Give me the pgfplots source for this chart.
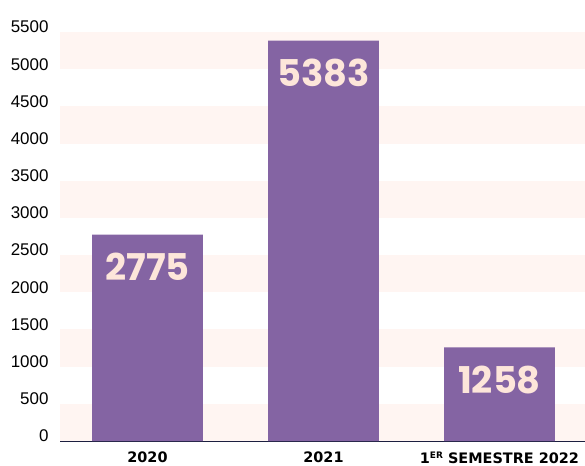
\documentclass[border=0pt]{standalone}
\usepackage{fontspec}
\setmainfont{Liberation Sans}
\newfontfamily\valfont{Poppins}[UprightFont=* Bold]
\newfontfamily\catfont{DejaVu Sans}[UprightFont=* Bold]
\usepackage{pgfplots}
\pgfplotsset{compat=1.18}
\definecolor{barc}{HTML}{8464A3}
\definecolor{valc}{HTML}{FDE6DA}
\definecolor{band}{HTML}{FFF5F2}
\definecolor{axc}{HTML}{1C1F40}
\begin{document}
\begin{tikzpicture}
\path[use as bounding box] (0,0) rectangle (585bp,466bp);
\begin{axis}[
  at={(60bp,25bp)}, anchor=south west,
  scale only axis, width=525bp, height=409bp,
  xmin=-0.497, xmax=2.486, ymin=0, ymax=5500,
  ytick={0,500,...,5500},
  xtick={0,1,2},
  xticklabels={2020,2021,{1{\fontsize{9}{9}\selectfont\raisebox{5bp}{ER}} SEMESTRE 2022}},
  axis x line*=bottom,
  axis y line*=left,
  y axis line style={draw=none},
  x axis line style={axc, line width=1.2pt, -},
  major tick length=0pt,
  ytick style={draw=none}, xtick style={draw=none},
  /pgf/number format/assume math mode=true,
  /pgf/number format/1000 sep={},
  yticklabel style={font=\fontsize{17}{17}\selectfont, anchor=east, xshift=-8bp, yshift=5bp},
  xticklabel style={font=\catfont\fontsize{14.5}{15}\selectfont, anchor=north, yshift=-7bp},
  ybar, bar width=0.63,
  clip=false,
  nodes near coords,
  nodes near coords style={font=\valfont\fontsize{37}{37}\selectfont, text=valc, anchor=north, inner sep=0pt, yshift=-18bp},
]
\pgfplotsinvokeforeach{0,1000,2000,3000,4000,5000}{
  \fill[band] (axis cs:-0.497,#1) rectangle (axis cs:2.486,#1+500);
}
\addplot[fill=barc, draw=none] coordinates {(0,2775) (1,5383) (2,1258)};
\end{axis}
\end{tikzpicture}
\end{document}
